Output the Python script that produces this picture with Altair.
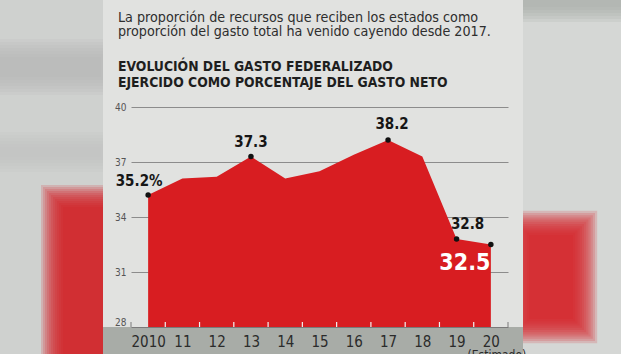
import altair as alt
import pandas as pd

# ---------------- data ----------------
years = [2010, 2011, 2012, 2013, 2014, 2015, 2016, 2017, 2018, 2019, 2020]
values = [35.2, 36.1, 36.2, 37.3, 36.1, 36.5, 37.4, 38.2, 37.3, 32.8, 32.5]
x_labels = ["2010", "11", "12", "13", "14", "15", "16", "17", "18", "19", "20"]
y_ticks = [28, 31, 34, 37, 40]
mid_years = [2010.5, 2011.5, 2012.5, 2013.5, 2014.5, 2015.5, 2016.5, 2017.5, 2018.5, 2019.5]
axis_caps = [2009.5, 2020.5]
marked_years = [2010, 2013, 2017, 2019, 2020]
label_years = [2010, 2013, 2017, 2019, 2020]
label_texts = ["35.2%", "37.3", "38.2", "32.8", "32.5"]
intro_lines = [
    "La proporción de recursos que reciben los estados como",
    "proporción del gasto total ha venido cayendo desde 2017.",
]
heading_lines = [
    "EVOLUCIÓN DEL GASTO FEDERALIZADO",
    "EJERCIDO COMO PORCENTAJE DEL GASTO NETO",
]
note_text = "(Estimado)"

FONT = "'DejaVu Sans Condensed', 'Liberation Sans Narrow', 'Liberation Sans', sans-serif"
RED = "#d81d21"
PANEL = "#e1e2e0"

df = pd.DataFrame({"year": years, "value": values})
marks_df = df[df["year"].isin(marked_years)]
one = pd.DataFrame({"a": [0]})

xscale = alt.Scale(domain=[2009.5, 2020.5], nice=False, zero=False)
yscale = alt.Scale(domain=[28, 40], nice=False, zero=False)

label_expr = "[" + ",".join(f"'{l}'" for l in x_labels) + "][round(datum.value) - 2010]"

x_axis = alt.Axis(values=years, format="d", labelExpr=label_expr, ticks=False,
                  domain=True, domainColor="#7a7a7a", domainWidth=1,
                  labelFont=FONT, labelFontSize=15, labelColor="#2b2b2b",
                  labelPadding=7, grid=False, title=None, zindex=1,
                  labelFlush=False, labelOverlap=False)
y_axis = alt.Axis(values=y_ticks, grid=True, gridColor="#8c8c8c", gridWidth=1,
                  domain=False, ticks=False, labelFont=FONT, labelFontSize=10,
                  labelColor="#555555", labelPadding=5, title=None, zindex=0,
                  labelBaseline={"condition": {"test": "datum.value <= 28", "value": "bottom"},
                                 "value": "middle"})
X = alt.X("year:Q", scale=xscale, axis=x_axis)
Y = alt.Y("value:Q", scale=yscale, axis=y_axis)


# ---------------- decorative background (blurred photo surround) ----------------
def box(x, x2, y, y2, color, opacity=1.0):
    return alt.Chart(one).mark_rect(color=color, opacity=opacity).encode(
        x=alt.value(x), x2=alt.value(x2), y=alt.value(y), y2=alt.value(y2)
    )


def blurred(x, x2, y, y2, color, steps=6, spread=3, op=0.22, clip=None):
    out = []
    for k in range(steps, -1, -1):
        e = k * spread
        bx, bx2, by, by2 = x - e, x2 + e, y - e, y2 + e
        if clip is not None:
            bx = max(bx, clip[0]); bx2 = min(bx2, clip[1])
            by = max(by, clip[2]); by2 = min(by2, clip[3])
        out.append(box(bx, bx2, by, by2, color, op))
    return out


LEFT_CLIP = (-131, -28, -107, 247)
RIGHT_CLIP = (392, 490, -107, 247)
bg_layers = [
    box(-131, -28, -107, 247, "#cfd1cf"),
    box(392, 490, -107, 247, "#d5d7d5"),
]
bg_layers += blurred(-131, -30, -50, -30, "#b4b6b4", steps=6, spread=3, op=0.15, clip=LEFT_CLIP)
bg_layers += blurred(-131, -30, 40, 50, "#bdbfbd", steps=5, spread=3, op=0.12, clip=LEFT_CLIP)
bg_layers += blurred(392, 490, -107, -100, "#a9aba9", steps=5, spread=3, op=0.18, clip=RIGHT_CLIP)
bg_layers += blurred(-68, -28, 100, 247, RED, steps=11, spread=2, op=0.17, clip=LEFT_CLIP)
bg_layers += blurred(398, 442, 128, 212, RED, steps=11, spread=2.2, op=0.17, clip=RIGHT_CLIP)
bg_layers.append(box(-28, 392, 220, 247, "#a8aca7"))

# ---------------- chart ----------------
area = alt.Chart(df).mark_area(color=RED, opacity=1, interpolate="linear").encode(
    x=X, y=Y, y2=alt.datum(28),
)

mid_ticks = alt.Chart(pd.DataFrame({"year": mid_years})).mark_rule(
    color="#f2f2f2", strokeWidth=1.2
).encode(x=X, y=alt.value(215), y2=alt.value(220))

caps = alt.Chart(pd.DataFrame({"year": axis_caps})).mark_rule(
    color="#7a7a7a", strokeWidth=1
).encode(x=X, y=alt.value(215), y2=alt.value(220))

dots = alt.Chart(marks_df).mark_circle(color="#111111", size=30, opacity=1).encode(x=X, y=Y)

lab_df = pd.DataFrame({"year": label_years, "text": label_texts})
lab_df["value"] = [values[years.index(y)] for y in label_years]

label_style = {
    "35.2%": dict(dx=-9, dy=-14, fontSize=15, color="#161616", fontWeight="bold"),
    "37.3": dict(dx=0, dy=-15, fontSize=15, color="#161616", fontWeight="bold"),
    "38.2": dict(dx=4, dy=-16, fontSize=15, color="#161616", fontWeight="bold"),
    "32.8": dict(dx=11, dy=-15, fontSize=15, color="#161616", fontWeight="bold"),
    "32.5": dict(dx=-26, dy=18, fontSize=23, color="#ffffff", fontWeight="bold"),
}
label_layers = []
for t in label_texts:
    st = label_style[t]
    label_layers.append(
        alt.Chart(lab_df[lab_df["text"] == t]).mark_text(
            font=FONT, baseline="middle", align="center", **st
        ).encode(x=X, y=Y, text="text:N")
    )

note = alt.Chart(pd.DataFrame({"year": [years[-1]], "t": [note_text]})).mark_text(
    font=FONT, fontSize=12, color="#2b2b2b", baseline="top", align="center", dx=6
).encode(x=X, y=alt.value(243), text="t:N")

# titles
intro_layers = [
    alt.Chart(pd.DataFrame({"t": [intro_lines[i]]})).mark_text(
        font=FONT, fontSize=14.2, color="#2e2e2e", align="left", baseline="alphabetic"
    ).encode(x=alt.value(-13), y=alt.value(yy), text="t:N")
    for i, yy in enumerate([-85, -71])
]
heading_layers = [
    alt.Chart(pd.DataFrame({"t": [heading_lines[i]]})).mark_text(
        font=FONT, fontSize=13.8, fontWeight="bold", color="#1e1e1e", align="left", baseline="alphabetic"
    ).encode(x=alt.value(-13), y=alt.value(yy), text="t:N")
    for i, yy in enumerate([-36, -20])
]

chart = alt.layer(
    *bg_layers, area, mid_ticks, caps, dots, *label_layers, note, *intro_layers, *heading_layers
).properties(
    width=377, height=220,
    padding={"left": 131, "top": 107, "right": 113, "bottom": 27},
    autosize=alt.AutoSizeParams(type="none"),
    background=PANEL,
).configure_view(stroke=None)

chart.save("out.html", embed_options={"renderer": "svg", "actions": False})
